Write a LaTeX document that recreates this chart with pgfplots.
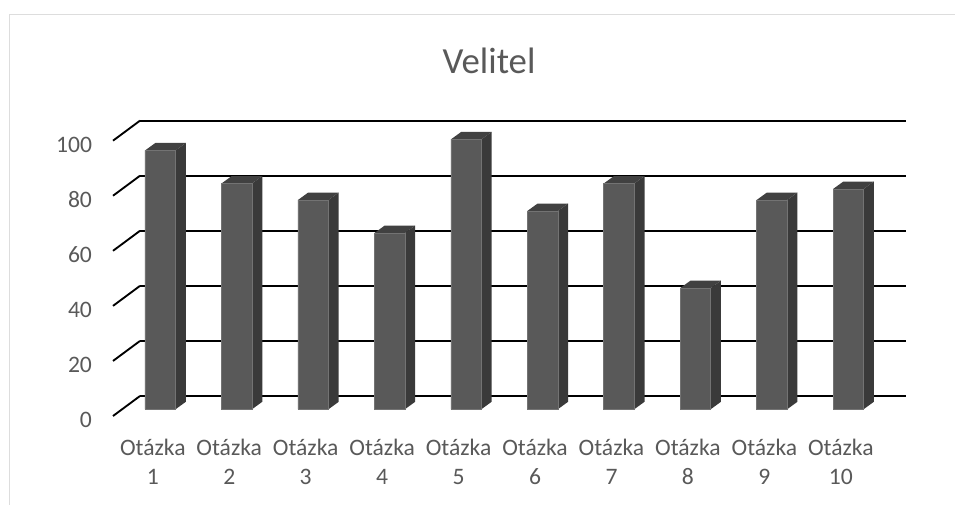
\documentclass[border=0pt]{standalone}
\usepackage{fontspec}
\setmainfont{Carlito}
\usepackage{pgfplots}
\pgfplotsset{compat=1.18}
\definecolor{txt}{HTML}{595959}
\definecolor{front}{HTML}{595959}
\definecolor{side}{HTML}{3A3A3A}
\definecolor{topf}{HTML}{414141}
\definecolor{frame}{HTML}{DDDDDD}
\begin{document}
\begin{tikzpicture}[x=1pt,y=1pt]
\useasboundingbox (0,0) rectangle (716.25,378.75);
\draw[frame,line width=0.9pt] (7,0) -- (7,367.8) -- (716.25,367.8);
\begin{axis}[
  at={(105pt,81.75pt)}, anchor=south west,
  scale only axis, width=574.5pt, height=206.5pt,
  xmin=0.735, xmax=10.755, ymin=0, ymax=100,
  clip=false,
  axis line style={draw=none},
  major tick style={draw=none},
  ymajorgrids,
  grid style={black,line width=1.4pt},
  ytick={0,20,40,60,80,100},
  xtick={1,2,3,4,5,6,7,8,9,10},
  xticklabels={{Otázka\\1},{Otázka\\2},{Otázka\\3},{Otázka\\4},{Otázka\\5},{Otázka\\6},{Otázka\\7},{Otázka\\8},{Otázka\\9},{Otázka\\10}},
  /pgf/number format/assume math mode=true,
  tick label style={font=\fontsize{17.7}{21.6}\selectfont,text=txt},
  xticklabel style={align=center,xshift=-5.6pt,yshift=-29pt},
  yticklabel style={xshift=-32.5pt,yshift=-18pt},
  title={Velitel},
  title style={font=\fontsize{27.6}{30}\selectfont,text=txt,xshift=-25.5pt,yshift=26pt},
]
\addplot[black,line width=1.4pt,unbounded coords=jump] coordinates {
 (0.735,0) (0.382,-7.27) (nan,nan)
 (0.735,20) (0.382,12.73) (nan,nan)
 (0.735,40) (0.382,32.73) (nan,nan)
 (0.735,60) (0.382,52.73) (nan,nan)
 (0.735,80) (0.382,72.73) (nan,nan)
 (0.735,100) (0.382,92.73)
};
\addplot[fill=side,draw=none,yshift=-9.975pt,unbounded coords=jump] coordinates {
 (1.1995,0) (1.3342,2.72) (1.3342,96.72) (1.1995,94) (nan,nan)
 (2.1995,0) (2.3342,2.72) (2.3342,84.72) (2.1995,82) (nan,nan)
 (3.1995,0) (3.3342,2.72) (3.3342,78.72) (3.1995,76) (nan,nan)
 (4.1995,0) (4.3342,2.72) (4.3342,66.72) (4.1995,64) (nan,nan)
 (5.1995,0) (5.3342,2.72) (5.3342,100.72) (5.1995,98) (nan,nan)
 (6.1995,0) (6.3342,2.72) (6.3342,74.72) (6.1995,72) (nan,nan)
 (7.1995,0) (7.3342,2.72) (7.3342,84.72) (7.1995,82) (nan,nan)
 (8.1995,0) (8.3342,2.72) (8.3342,46.72) (8.1995,44) (nan,nan)
 (9.1995,0) (9.3342,2.72) (9.3342,78.72) (9.1995,76) (nan,nan)
 (10.1995,0) (10.3342,2.72) (10.3342,82.72) (10.1995,80)
};
\addplot[fill=topf,draw=none,yshift=-9.975pt,unbounded coords=jump] coordinates {
 (0.8005,94) (0.9352,96.72) (1.3342,96.72) (1.1995,94) (nan,nan)
 (1.8005,82) (1.9352,84.72) (2.3342,84.72) (2.1995,82) (nan,nan)
 (2.8005,76) (2.9352,78.72) (3.3342,78.72) (3.1995,76) (nan,nan)
 (3.8005,64) (3.9352,66.72) (4.3342,66.72) (4.1995,64) (nan,nan)
 (4.8005,98) (4.9352,100.72) (5.3342,100.72) (5.1995,98) (nan,nan)
 (5.8005,72) (5.9352,74.72) (6.3342,74.72) (6.1995,72) (nan,nan)
 (6.8005,82) (6.9352,84.72) (7.3342,84.72) (7.1995,82) (nan,nan)
 (7.8005,44) (7.9352,46.72) (8.3342,46.72) (8.1995,44) (nan,nan)
 (8.8005,76) (8.9352,78.72) (9.3342,78.72) (9.1995,76) (nan,nan)
 (9.8005,80) (9.9352,82.72) (10.3342,82.72) (10.1995,80)
};
\addplot[ybar,bar width=22.9pt,bar shift=0pt,fill=front,draw=black!55,line width=0.3pt,yshift=-9.975pt] coordinates {
 (1,94) (2,82) (3,76) (4,64) (5,98) (6,72) (7,82) (8,44) (9,76) (10,80)
};
\end{axis}
\end{tikzpicture}
\end{document}
